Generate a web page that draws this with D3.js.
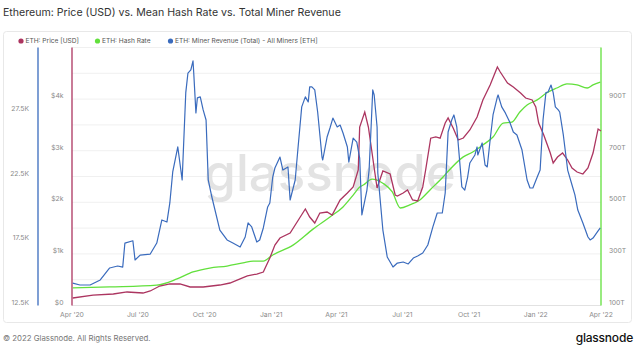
<!doctype html>
<html>
<head>
<script src="https://d3js.org/d3.v7.min.js"></script>
<style>
  body { margin: 0; background: #fff; }
  svg { font-family: Inter, "Noto Sans", sans-serif; }
</style>
</head>
<body>
<svg width="643" height="351"></svg>
<script>
// day offsets from 1 Apr 2020
var startDate = new Date(2020, 3, 1);

var priceData = [
  [1,145],[29,203],[57,223],[76,262],[98,242],[108,281],[121,378],[135,417],[149,417],
  [163,359],[181,359],[204,397],[218,436],[232,514],[242,572],[255,610],[264,649],
  [273,921],[280,1172],[287,1308],[301,1405],[315,1715],[322,1870],[328,1715],[335,1599],
  [342,1793],[352,1812],[359,1754],[370,2045],[380,2180],[388,2297],[395,2626],[397,3459],
  [404,3750],[409,3459],[418,2568],[421,2277],[429,2607],[439,2548],[446,2141],[449,2122],
  [457,2180],[463,2238],[470,2045],[477,2025],[484,2297],[488,2626],[495,3242],[502,3266],
  [508,3242],[515,3537],[519,3634],[526,3440],[533,3207],[540,3246],[549,3401],[559,3653],
  [567,3983],[577,4273],[587,4622],[591,4525],[601,4312],[609,4234],[619,4118],[626,4021],
  [635,3983],[640,3847],[644,3537],[651,3304],[660,2955],[664,2762],[670,2878],[677,2955],
  [684,2820],[690,2665],[697,2587],[705,2548],[712,2665],[719,2955],[726,3421],[730,3382]
];

var hashData = [
  [1,168],[52,172],[117,179],[145,203],[167,230],[190,245],[214,253],[236,265],[250,272],
  [264,272],[277,296],[305,334],[333,397],[356,443],[374,482],[388,528],[397,559],[402,567],
  [414,590],[429,574],[442,540],[453,478],[466,490],[480,509],[494,548],[512,598],[518,617],
  [540,676],[553,695],[567,722],[581,753],[595,807],[607,811],[618,850],[628,877],[642,897],
  [655,924],[669,943],[683,959],[697,955],[711,943],[719,955],[729,966]
];

var revenueData = [
  [1,14.24],[11,14.09],[25,14.09],[39,14.48],[52,15.41],[63,15.56],[70,15.48],[73,17.34],
  [84,17.52],[87,16.03],[94,16.41],[108,16.49],[117,17.34],[124,19.13],[131,18.97],[135,20.45],
  [139,22.85],[146,24.79],[152,22.23],[157,29.0],[160,30.52],[164,30.76],[167,31.46],[168,30.52],
  [171,27.43],[173,28.59],[177,28.67],[181,27.66],[185,26.88],[188,22.23],[193,20.91],[204,18.35],
  [214,17.58],[222,17.34],[232,17.03],[239,17.81],[243,18.9],[248,18.59],[255,17.42],[259,17.58],
  [264,18.51],[270,20.14],[273,20.45],[277,22.46],[280,23.16],[287,24.01],[291,23.0],[298,23.24],
  [301,20.68],[308,22.23],[312,24.79],[317,27.9],[322,28.67],[326,28.28],[328,29.45],[331,29.45],
  [335,29.21],[339,27.5],[345,24.01],[346,23.78],[352,25.56],[356,26.26],[360,27.03],[366,26.34],
  [370,26.49],[374,25.87],[380,24.79],[382,23.62],[388,25.48],[393,25.17],[397,23.93],[400,19.52],
  [407,21.45],[410,23.0],[413,26.64],[415,29.21],[417,28.82],[421,26.34],[422,22.77],[429,18.35],
  [435,16.26],[443,15.48],[449,15.79],[457,15.87],[464,15.72],[471,16.18],[477,16.34],[484,16.57],
  [491,17.19],[498,18.59],[504,19.67],[511,19.67],[515,21.22],[519,25.95],[524,26.88],[527,27.27],
  [531,26.34],[538,21.69],[542,21.45],[546,22.46],[549,23.55],[556,24.17],[559,24.79],[560,24.17],
  [566,25.1],[570,23.39],[573,23.24],[577,25.33],[581,27.27],[587,28.67],[588,28.82],[593,27.9],
  [598,27.43],[604,26.72],[609,25.95],[614,25.72],[621,24.55],[628,22.23],[632,21.61],[636,21.61],
  [642,22.46],[646,23.0],[650,26.88],[654,29.0],[657,29.05],[661,29.59],[664,29.0],[667,27.9],
  [671,27.66],[673,27.5],[678,25.72],[684,23.0],[690,21.84],[694,21.07],[698,19.9],[705,18.9],
  [712,17.81],[715,17.58],[719,17.73],[725,18.2],[729,18.51]
];

var priceTicks = [0, 1000, 2000, 3000, 4000];
var hashTicks = [100, 300, 500, 700, 900];
var revenueTicks = [12.5, 17.5, 22.5, 27.5];
var xTickDates = ["2020-04-01","2020-07-01","2020-10-01","2021-01-01","2021-04-01",
                  "2021-07-01","2021-10-01","2022-01-01","2022-04-01"];

var priceColor = "#ac3560", hashColor = "#62e03c", revColor = "#3a6bbd";

var svg = d3.select("svg");
var plotLeft = 72, plotRight = 601, plotTop = 47.5, plotBottom = 305.5;

var x = d3.scaleTime()
  .domain([startDate, new Date(2022, 3, 1)])
  .range([plotLeft, plotRight]);
var yPrice = d3.scaleLinear().domain([0, 5000]).range([plotBottom, plotTop]);
var yHash = d3.scaleLinear().domain([100, 1100]).range([plotBottom, plotTop]);
var yRev = d3.scaleLinear().domain([12.5, 32.5]).range([plotBottom, plotTop]);

function dayDate(d) { return d3.timeDay.offset(startDate, d); }

// title
svg.append("text").attr("x", 3).attr("y", 15.5)
  .style("font-size", "10.6px").style("fill", "#333")
  .text("Ethereum: Price (USD) vs. Mean Hash Rate vs. Total Miner Revenue");

// frame
svg.append("rect").attr("x", 3.5).attr("y", 31.5).attr("width", 628).attr("height", 291)
  .attr("rx", 3).style("fill", "none").style("stroke", "#e8e8e8");

// legend
var legend = [
  {label: "ETH: Price [USD]", color: priceColor, x: 21},
  {label: "ETH: Hash Rate", color: hashColor, x: 97.5},
  {label: "ETH: Miner Revenue (Total) - All Miners [ETH]", color: revColor, x: 170.5}
];
var lg = svg.append("g").selectAll("g").data(legend).enter().append("g");
lg.append("circle").attr("cx", function(d) { return d.x; }).attr("cy", 41).attr("r", 2.6)
  .style("fill", function(d) { return d.color; });
lg.append("text").attr("x", function(d) { return d.x + 4.5; }).attr("y", 43.4)
  .style("font-size", "6.6px").style("fill", "#555").text(function(d) { return d.label; });

// grid
var grid = d3.range(0, 5001, 500);
svg.append("g").selectAll("line").data(grid).enter().append("line")
  .attr("x1", plotLeft).attr("x2", plotRight)
  .attr("y1", function(d) { return yPrice(d); }).attr("y2", function(d) { return yPrice(d); })
  .style("stroke", function(d) { return d === 0 ? "#e2e2e2" : "#f0f0f0"; })
  .style("stroke-width", 1);

// watermark
svg.append("text").attr("x", 330).attr("y", 191).attr("text-anchor", "middle")
  .style("font-size", "51px").style("fill", "#e3e3e3").style("font-weight", 500)
  .text("glassnode");

// axis lines
svg.append("line").attr("x1", 38).attr("x2", 38).attr("y1", plotTop).attr("y2", plotBottom)
  .style("stroke", revColor).style("stroke-width", 1.3);
svg.append("line").attr("x1", plotLeft).attr("x2", plotLeft).attr("y1", plotTop).attr("y2", plotBottom)
  .style("stroke", priceColor).style("stroke-width", 1.3);
svg.append("line").attr("x1", plotRight).attr("x2", plotRight).attr("y1", plotTop).attr("y2", plotBottom)
  .style("stroke", hashColor).style("stroke-width", 1.3);

// axis labels
var tickStyle = function(sel) { sel.style("font-size", "6.8px").style("fill", "#8a8a8a"); };
svg.append("g").selectAll("text").data(revenueTicks).enter().append("text")
  .attr("x", 29).attr("y", function(d) { return yRev(d) - 1; }).attr("text-anchor", "end")
  .call(tickStyle).text(function(d) { return d + "K"; });
svg.append("g").selectAll("text").data(priceTicks).enter().append("text")
  .attr("x", 63.5).attr("y", function(d) { return yPrice(d) - 1; }).attr("text-anchor", "end")
  .call(tickStyle).text(function(d) { return d === 0 ? "$0" : "$" + d / 1000 + "k"; });
svg.append("g").selectAll("text").data(hashTicks).enter().append("text")
  .attr("x", 609).attr("y", function(d) { return yHash(d) - 1; })
  .call(tickStyle).text(function(d) { return d + "T"; });
svg.append("g").selectAll("text").data(xTickDates).enter().append("text")
  .attr("x", function(d) { return x(new Date(d + "T00:00")); }).attr("y", 316.5)
  .attr("text-anchor", "middle").call(tickStyle)
  .text(function(d) { return d3.timeFormat("%b '%y")(new Date(d + "T00:00")); });

// series
var priceLine = d3.line().x(function(d) { return x(dayDate(d[0])); })
  .y(function(d) { return yPrice(d[1]); });
var hashLine = d3.line().x(function(d) { return x(dayDate(d[0])); })
  .y(function(d) { return yHash(d[1]); }).curve(d3.curveMonotoneX);
var revLine = d3.line().x(function(d) { return x(dayDate(d[0])); })
  .y(function(d) { return yRev(d[1]); });

svg.append("path").datum(hashData).attr("d", hashLine)
  .style("fill", "none").style("stroke", hashColor).style("stroke-width", 1.3);
svg.append("path").datum(priceData).attr("d", priceLine)
  .style("fill", "none").style("stroke", priceColor).style("stroke-width", 1.3);
svg.append("path").datum(revenueData).attr("d", revLine)
  .style("fill", "none").style("stroke", revColor).style("stroke-width", 1.2)
  .style("stroke-linejoin", "round");

// footer
svg.append("text").attr("x", 3).attr("y", 341)
  .style("font-size", "7.8px").style("fill", "#777")
  .text("\u00a9 2022 Glassnode. All Rights Reserved.");
svg.append("text").attr("x", 633).attr("y", 342).attr("text-anchor", "end")
  .style("font-size", "12px").style("fill", "#111").style("font-weight", 500)
  .style("letter-spacing", "-0.2px")
  .text("glassnode");
</script>
</body>
</html>
